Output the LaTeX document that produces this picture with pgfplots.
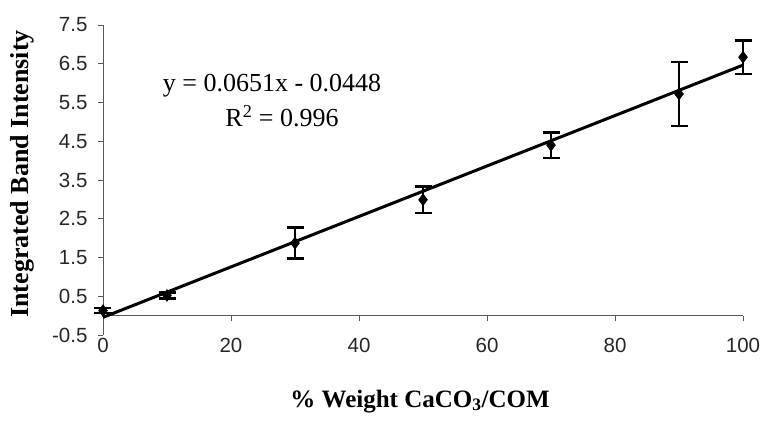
\documentclass[border=0pt]{standalone}
\usepackage{fontspec}
\setmainfont{Liberation Serif}
\newfontfamily\tickfont{Liberation Sans}
\usepackage{pgfplots}
\usepackage{pgfplotstable}
\pgfplotsset{compat=1.18}
\pgfplotstableread{
x y err
0 0.13 0.06
10 0.52 0.08
30 1.87 0.40
50 2.99 0.34
70 4.40 0.33
90 5.72 0.82
100 6.67 0.43
}\datatable
\pgfplotstableread{
x y
0 -0.0448
100 6.4652
}\trendtable
\begin{document}
\begin{tikzpicture}
\begin{axis}[
  anchor=south west, at={(0pt,0pt)},
  scale only axis,
  width=640pt, height=310pt,
  xmin=0, xmax=100, ymin=-0.5, ymax=7.5,
  axis x line*=middle, axis y line*=left,
  hide obscured x ticks=false,
  axis line style={gray!70!black, line width=0.8pt},
  tick style={gray!70!black, line width=0.8pt},
  tick align=outside,
  major tick length=5pt,
  xtick={0,20,...,100},
  ytick={-0.5,0.5,...,7.5},
  /pgf/number format/assume math mode=true,
  ticklabel style={font=\tickfont\fontsize{20.5}{24}\selectfont, text=black!85},
  yticklabel style={/pgf/number format/fixed, /pgf/number format/fixed zerofill, /pgf/number format/precision=1, xshift=-7pt},
  xticklabel style={anchor=north, yshift=-14pt},
  clip=false,
]
\addplot[black, line width=3pt, no marks] table[x=x, y=y] {\trendtable};
\addplot[black, only marks, mark=diamond*, mark size=6pt,
  error bars/.cd, y dir=both, y explicit,
  error bar style={line width=2.4pt, black},
  error mark options={rotate=90, mark size=8.5pt, line width=2.4pt, black}]
  table[x=x, y=y, y error=err] {\datatable};
\end{axis}
\node[font=\fontsize{26}{30}\selectfont, anchor=base] at (169pt,243pt) {y = 0.0651x - 0.0448};
\node[font=\fontsize{26}{30}\selectfont, anchor=base] at (179pt,208pt) {R\textsuperscript{2} = 0.996};
\node[font=\bfseries\fontsize{26}{30}\selectfont, rotate=90] at (-81pt,161pt) {Integrated Band Intensity};
\node[font=\bfseries\fontsize{25}{30}\selectfont, anchor=base] at (317pt,-72pt) {\% Weight CaCO\textsubscript{3}/COM};
\path[use as bounding box] (-103pt,-85pt) rectangle (662pt,335pt);
\end{tikzpicture}
\end{document}
